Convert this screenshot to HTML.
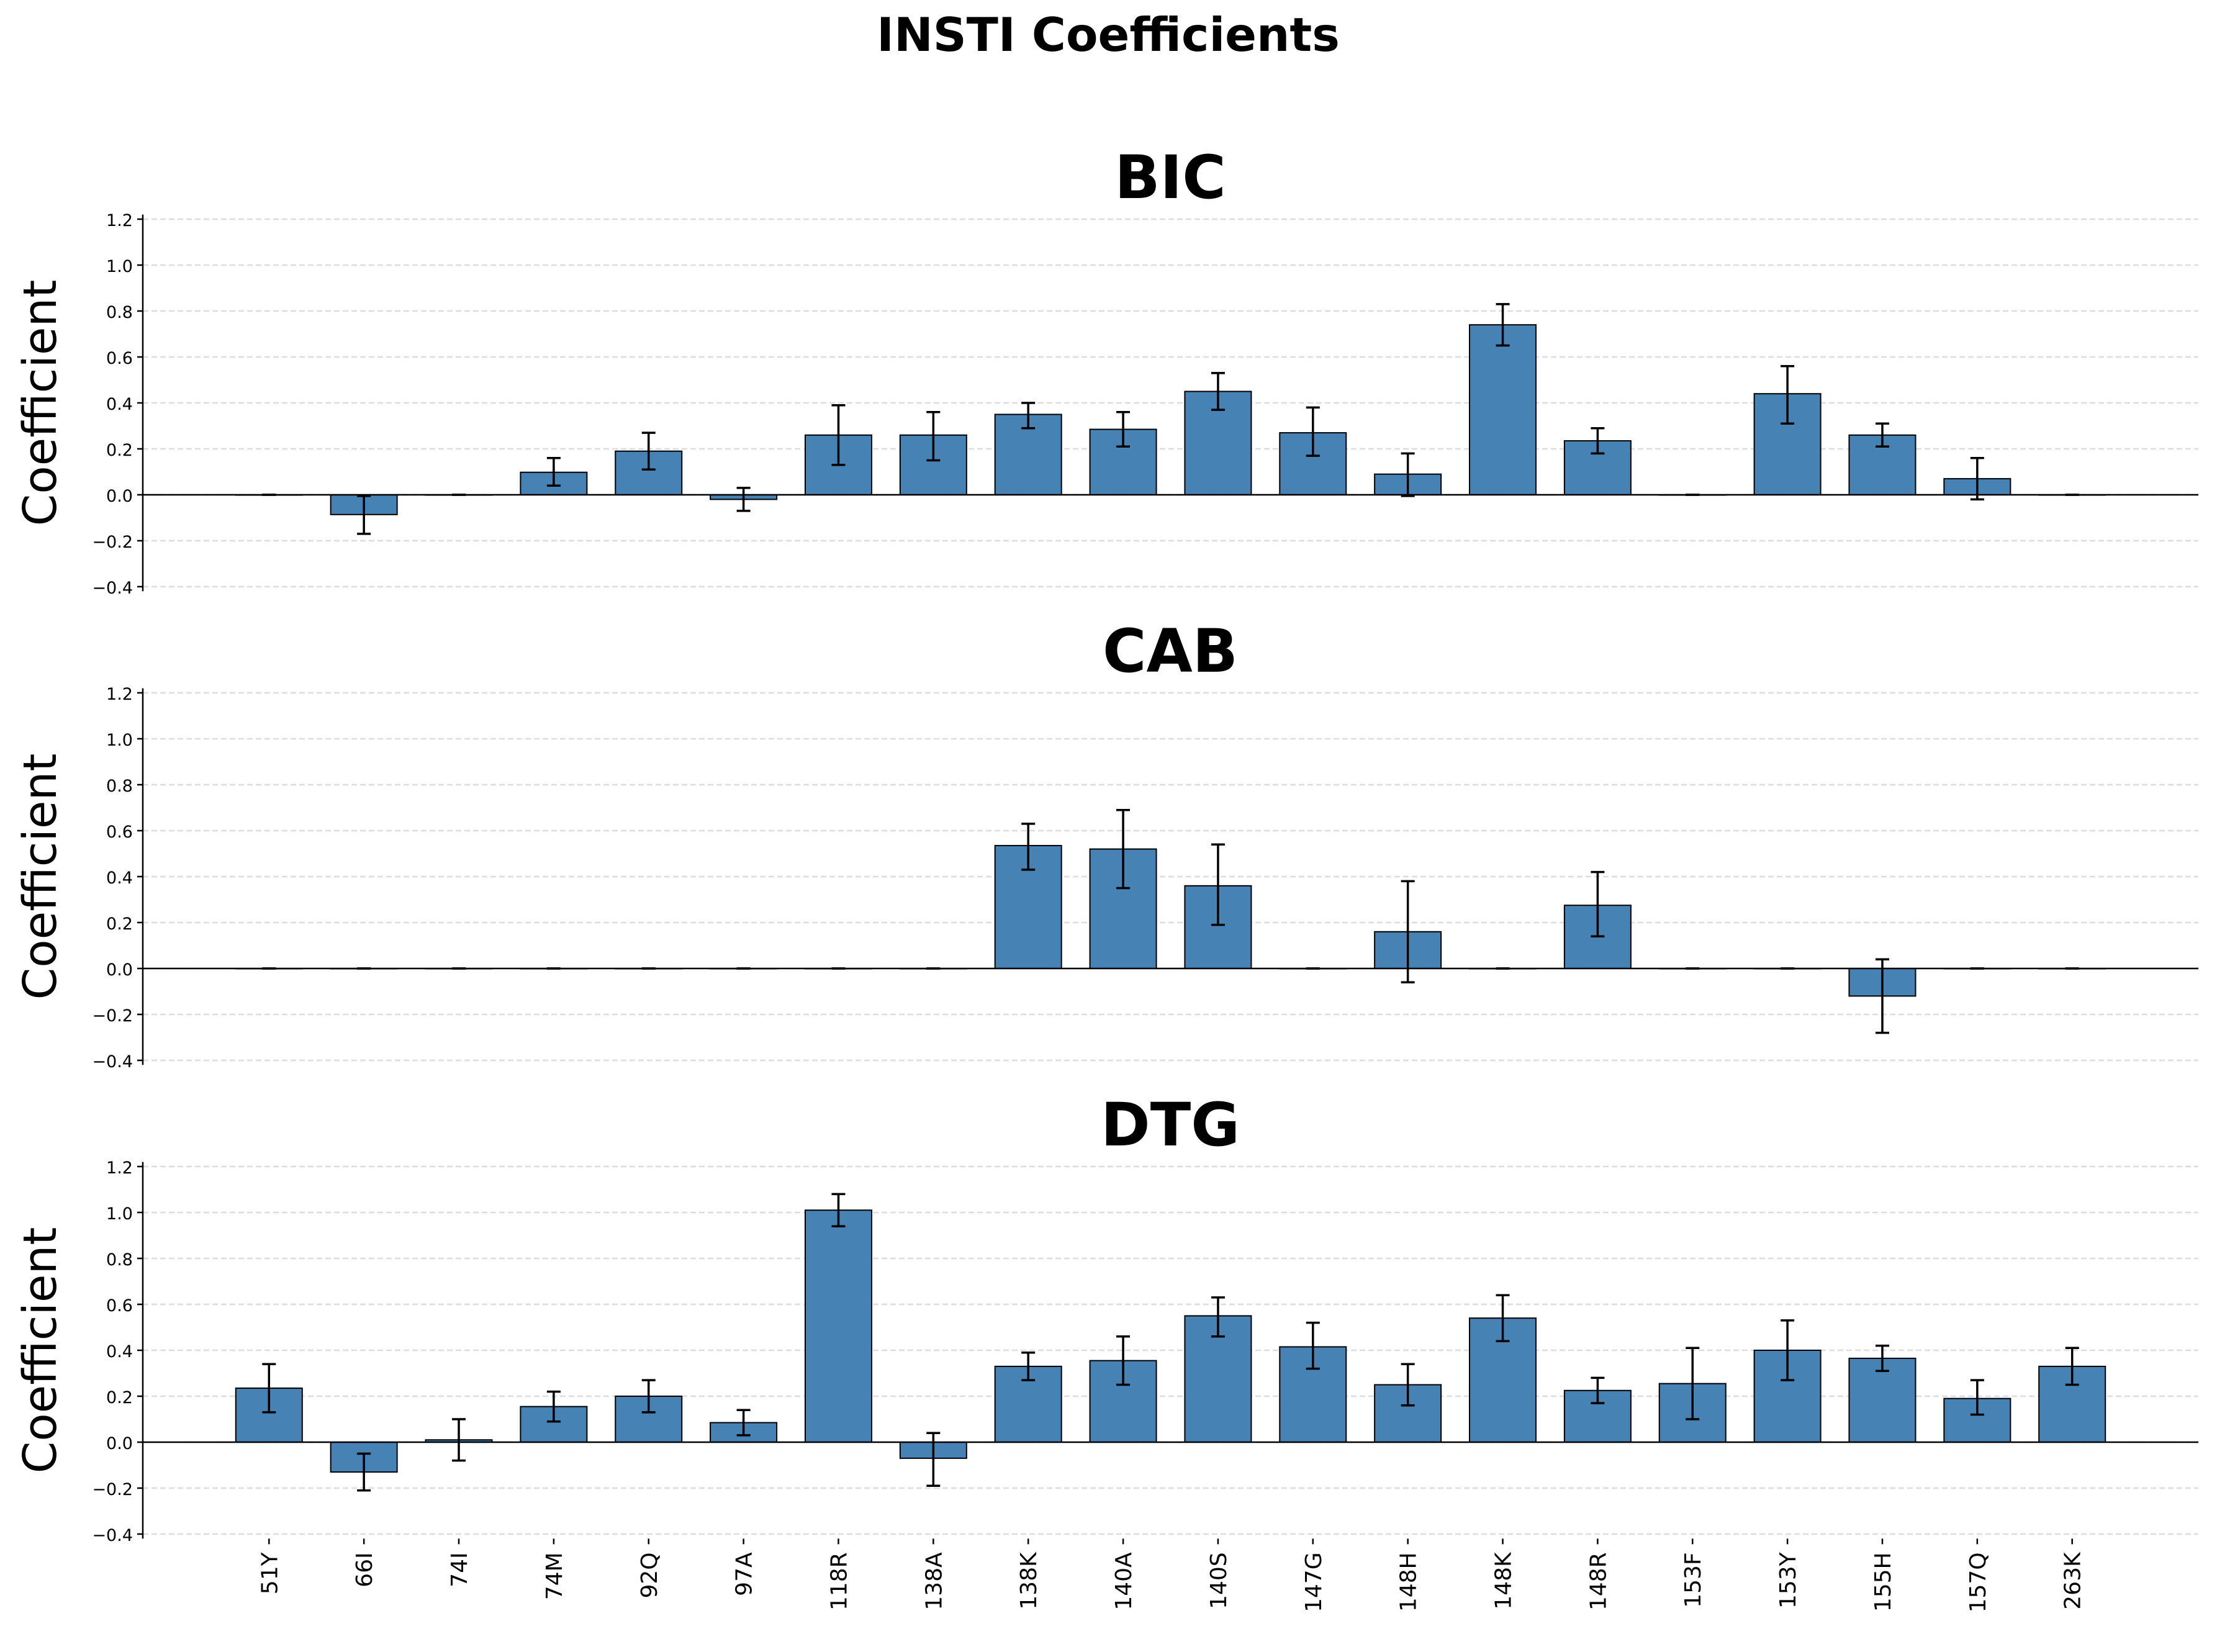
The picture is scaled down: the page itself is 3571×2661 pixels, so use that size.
<!DOCTYPE html>
<html><head><meta charset="utf-8"><style>
html,body{margin:0;padding:0;background:#fff}
svg{display:block;font-family:"DejaVu Sans","Liberation Sans",sans-serif}
</style></head><body>
<svg id="chart" xmlns="http://www.w3.org/2000/svg" width="3571" height="2661" viewBox="0 0 3571 2661">
<rect width="3571" height="2661" fill="#fff"/>
<text x="1785" y="82" text-anchor="middle" font-size="75" font-weight="bold">INSTI Coefficients</text>
<g id="plots"></g>
</svg>
<script>
const categories = ["51Y","66I","74I","74M","92Q","97A","118R","138A","138K","140A","140S","147G","148H","148K","148R","153F","153Y","155H","157Q","263K"];
const panelNames = ["BIC","CAB","DTG"];
const bicValues = [0,-0.086,0,0.098,0.19,-0.02,0.26,0.26,0.35,0.285,0.45,0.27,0.09,0.74,0.235,0,0.44,0.26,0.07,0];
const bicLow    = [0,-0.17,0,0.04,0.11,-0.07,0.13,0.15,0.29,0.21,0.37,0.17,-0.005,0.65,0.18,0,0.31,0.21,-0.02,0];
const bicHigh   = [0,-0.005,0,0.16,0.27,0.03,0.39,0.36,0.40,0.36,0.53,0.38,0.18,0.83,0.29,0,0.56,0.31,0.16,0];
const cabValues = [0,0,0,0,0,0,0,0,0.535,0.52,0.36,0,0.16,0,0.275,0,0,-0.12,0,0];
const cabLow    = [0,0,0,0,0,0,0,0,0.43,0.35,0.19,0,-0.06,0,0.14,0,0,-0.28,0,0];
const cabHigh   = [0,0,0,0,0,0,0,0,0.63,0.69,0.54,0,0.38,0,0.42,0,0,0.04,0,0];
const dtgValues = [0.235,-0.13,0.01,0.155,0.20,0.085,1.01,-0.07,0.33,0.355,0.55,0.415,0.25,0.54,0.225,0.255,0.40,0.365,0.19,0.33];
const dtgLow    = [0.13,-0.21,-0.08,0.09,0.13,0.03,0.94,-0.19,0.27,0.25,0.46,0.32,0.16,0.44,0.17,0.10,0.27,0.31,0.12,0.25];
const dtgHigh   = [0.34,-0.05,0.10,0.22,0.27,0.14,1.08,0.04,0.39,0.46,0.63,0.52,0.34,0.64,0.28,0.41,0.53,0.42,0.27,0.41];
const yTicks = [-0.4,-0.2,0.0,0.2,0.4,0.6,0.8,1.0,1.2];
const yTickLabels = ["\u22120.4","\u22120.2","0.0","0.2","0.4","0.6","0.8","1.0","1.2"];

const NS = "http://www.w3.org/2000/svg";
const root = document.getElementById("plots");
const axLeft = 230, axRight = 3541;
const step = (axRight - axLeft) / (categories.length + 1.66);
const xAt = i => axLeft + (i + 1.33) * step;
const barW = step * 0.7;
const zeros = [797, 1560, 2323];
const unit = 370;
const series = [[bicValues,bicLow,bicHigh],[cabValues,cabLow,cabHigh],[dtgValues,dtgLow,dtgHigh]];

function mk(tag, attrs, parent){
  const e = document.createElementNS(NS, tag);
  for (const k in attrs) e.setAttribute(k, attrs[k]);
  parent.appendChild(e);
  return e;
}

panelNames.forEach((name, p) => {
  const z = zeros[p];
  const yAt = v => z - v * unit;
  const g = mk("g", {}, root);
  
  
  yTicks.forEach((t, k) => {
    const gl = mk("line", {x1: axLeft, x2: axRight, y1: yAt(t), y2: yAt(t), stroke: "#dddddd", "stroke-width": 2.5, "stroke-dasharray": "9,5"}, g);
    
    
    const tk = mk("line", {x1: axLeft - 9, x2: axLeft, y1: yAt(t), y2: yAt(t), stroke: "#000", "stroke-width": 2.5}, g);
    
    
    const tl = mk("text", {x: axLeft - 16, y: yAt(t) + 11, "text-anchor": "end", "font-size": 27}, g);
    tl.textContent = yTickLabels[k];
    
    
  });
  const tt = mk("text", {x: 1885, y: z - 478, "text-anchor": "middle", "font-size": 96, "font-weight": "bold"}, g);
  tt.textContent = name;
  
  
  const yl = mk("text", {x: 0, y: 0, "text-anchor": "middle", "font-size": 74, transform: `translate(90,${yAt(0.4)}) rotate(-90)`}, g);
  yl.textContent = "Coefficient";
  
  
  const [vals, lo, hi] = series[p];
  vals.forEach((v, i) => {
    const cx = xAt(i);
    const y0 = Math.min(yAt(0), yAt(v)), h = Math.abs(yAt(v) - yAt(0));
    const b = mk("rect", {x: cx - barW/2, y: y0, width: barW, height: Math.max(h, 0.5), fill: "#4682b4", stroke: "#000", "stroke-width": 2}, g);
    
    
    const eg = mk("g", {stroke: "#000", "stroke-width": 3.5}, g);
    
    
    mk("line", {x1: cx, x2: cx, y1: yAt(lo[i]), y2: yAt(hi[i])}, eg);
    mk("line", {x1: cx - 11, x2: cx + 11, y1: yAt(lo[i]), y2: yAt(lo[i])}, eg);
    mk("line", {x1: cx - 11, x2: cx + 11, y1: yAt(hi[i]), y2: yAt(hi[i])}, eg);
  });
  const zl = mk("line", {x1: axLeft, x2: axRight, y1: z, y2: z, stroke: "#000", "stroke-width": 2.5}, g);
  
  
  const sp = mk("line", {x1: axLeft, x2: axLeft, y1: yAt(1.22), y2: yAt(-0.42), stroke: "#000", "stroke-width": 2.5}, g);
  
  
  if (p === panelNames.length - 1) {
    categories.forEach((c, i) => {
      const cx = xAt(i);
      const t = mk("line", {x1: cx, x2: cx, y1: yAt(-0.42), y2: yAt(-0.42) + 9, stroke: "#000", "stroke-width": 2.5}, g);
      
      
      const l = mk("text", {x: 0, y: 0, "text-anchor": "end", "font-size": 36, transform: `translate(${cx + 13},${yAt(-0.42) + 22}) rotate(-90)`}, g);
      l.textContent = c;
      
      
    });
  }
});
</script>
</body></html>
